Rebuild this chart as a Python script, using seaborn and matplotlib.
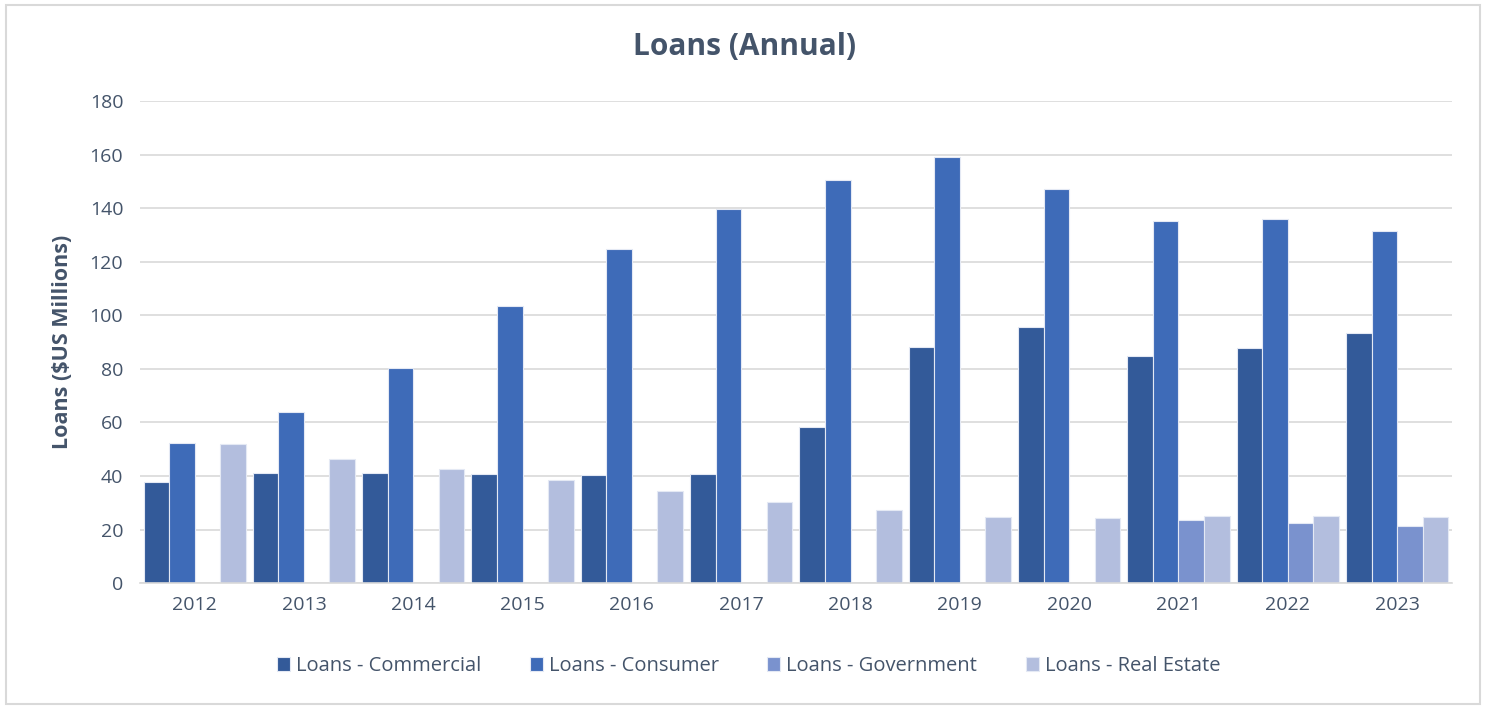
import numpy as np
import pandas as pd
import matplotlib.pyplot as plt
import seaborn as sns
from matplotlib.patches import Rectangle

# values ($US millions)
years = ['2012', '2013', '2014', '2015', '2016', '2017',
         '2018', '2019', '2020', '2021', '2022', '2023']
commercial = [37.8, 41.0, 41.3, 40.6, 40.3, 40.7, 58.3, 88.0, 95.6, 84.8, 87.8, 93.2]
consumer = [52.4, 63.9, 80.3, 103.5, 124.7, 139.7, 150.5, 159.2, 147.1, 135.3, 135.9, 131.3]
government = [np.nan] * 9 + [23.6, 22.5, 21.4]
real_estate = [52.0, 46.4, 42.7, 38.5, 34.5, 30.2, 27.4, 24.6, 24.5, 24.9, 25.0, 24.7]

series_names = ['Loans - Commercial', 'Loans - Consumer',
                'Loans - Government', 'Loans - Real Estate']
colors = ['#335A99', '#3E6BB8', '#7A92CE', '#B3BEDE']

df = pd.DataFrame({'Year': years,
                   series_names[0]: commercial,
                   series_names[1]: consumer,
                   series_names[2]: government,
                   series_names[3]: real_estate})
long_df = df.melt(id_vars='Year', var_name='Series', value_name='Value')

text_color = '#44546A'
sns.set_style('white')
plt.rcParams['font.family'] = ['Open Sans', 'DejaVu Sans']

fig = plt.figure(figsize=(14.89, 7.06), dpi=100)
ax = fig.add_axes([0.094, 0.174, 0.881, 0.683])

sns.barplot(data=long_df, x='Year', y='Value', hue='Series', hue_order=series_names,
            order=years, palette=colors, width=0.935, gap=0, ax=ax,
            edgecolor='#E4E9F4', linewidth=0.8, saturation=1, errorbar=None)

ax.set_ylim(0, 180)
ax.set_yticks(range(0, 181, 20))
ax.yaxis.grid(True, color='#D9D9D9', linewidth=1.2)
ax.set_axisbelow(True)
ax.set_xlim(-0.5, len(years) - 0.5)
for side in ['left', 'right', 'top']:
    ax.spines[side].set_visible(False)
ax.spines['bottom'].set_color('#D9D9D9')
ax.spines['bottom'].set_linewidth(1.2)
ax.tick_params(axis='both', length=0, labelsize=14, colors=text_color, pad=12)
ax.tick_params(axis='x', pad=9)

ax.set_xlabel('')
ax.set_ylabel('Loans ($US Millions)', fontsize=15.5, fontweight='bold',
              color=text_color, labelpad=12)
fig.text(0.5, 0.933, 'Loans (Annual)', ha='center', va='center',
         fontsize=21.5, fontweight='bold', color=text_color)

handles, labels = ax.get_legend_handles_labels()
ax.legend(handles, labels, loc='center', bbox_to_anchor=(0.464, -0.172), ncol=4,
          frameon=False, fontsize=14.5, labelcolor=text_color,
          handlelength=0.65, handleheight=0.65, handletextpad=0.3, columnspacing=2.4)

fig.patches.append(Rectangle((0.004, 0.003), 0.99, 0.99, transform=fig.transFigure,
                             fill=False, edgecolor='#D9D9D9', linewidth=1.5))

fig.savefig('out.png', dpi=100)
